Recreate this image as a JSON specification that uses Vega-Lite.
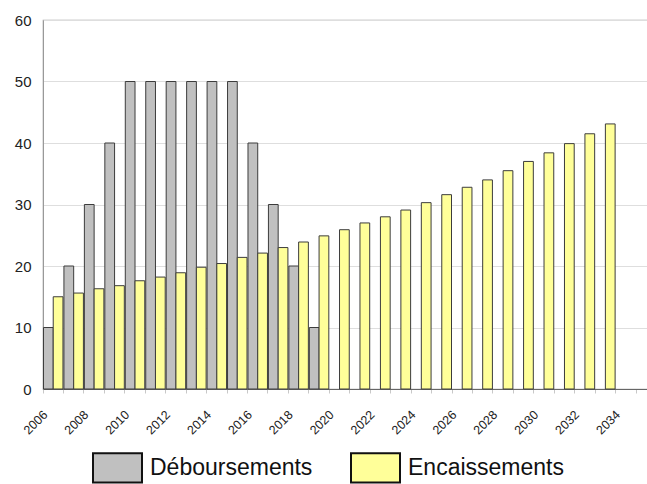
{
  "$schema": "https://vega.github.io/schema/vega-lite/v6.json",
  "autosize": {"type": "none"},
  "padding": {"left": 43, "top": 20, "right": 0, "bottom": 95},
  "width": 613.5,
  "height": 369,
  "config": {
    "view": {"stroke": "#a0a0a0", "strokeWidth": 1.2},
    "font": "Liberation Sans"
  },
  "data": {
    "values": [
      {"annee": 2006, "serie": "Déboursements", "montant": 10},
      {"annee": 2007, "serie": "Déboursements", "montant": 20},
      {"annee": 2008, "serie": "Déboursements", "montant": 30},
      {"annee": 2009, "serie": "Déboursements", "montant": 40},
      {"annee": 2010, "serie": "Déboursements", "montant": 50},
      {"annee": 2011, "serie": "Déboursements", "montant": 50},
      {"annee": 2012, "serie": "Déboursements", "montant": 50},
      {"annee": 2013, "serie": "Déboursements", "montant": 50},
      {"annee": 2014, "serie": "Déboursements", "montant": 50},
      {"annee": 2015, "serie": "Déboursements", "montant": 50},
      {"annee": 2016, "serie": "Déboursements", "montant": 40},
      {"annee": 2017, "serie": "Déboursements", "montant": 30},
      {"annee": 2018, "serie": "Déboursements", "montant": 20},
      {"annee": 2019, "serie": "Déboursements", "montant": 10},
      {"annee": 2006, "serie": "Encaissements", "montant": 15.0},
      {"annee": 2007, "serie": "Encaissements", "montant": 15.6},
      {"annee": 2008, "serie": "Encaissements", "montant": 16.3},
      {"annee": 2009, "serie": "Encaissements", "montant": 16.8},
      {"annee": 2010, "serie": "Encaissements", "montant": 17.6},
      {"annee": 2011, "serie": "Encaissements", "montant": 18.2},
      {"annee": 2012, "serie": "Encaissements", "montant": 18.9},
      {"annee": 2013, "serie": "Encaissements", "montant": 19.8},
      {"annee": 2014, "serie": "Encaissements", "montant": 20.4},
      {"annee": 2015, "serie": "Encaissements", "montant": 21.4},
      {"annee": 2016, "serie": "Encaissements", "montant": 22.1},
      {"annee": 2017, "serie": "Encaissements", "montant": 23.0},
      {"annee": 2018, "serie": "Encaissements", "montant": 23.9},
      {"annee": 2019, "serie": "Encaissements", "montant": 24.9},
      {"annee": 2020, "serie": "Encaissements", "montant": 25.9},
      {"annee": 2021, "serie": "Encaissements", "montant": 27.0},
      {"annee": 2022, "serie": "Encaissements", "montant": 28.0},
      {"annee": 2023, "serie": "Encaissements", "montant": 29.1},
      {"annee": 2024, "serie": "Encaissements", "montant": 30.3},
      {"annee": 2025, "serie": "Encaissements", "montant": 31.6},
      {"annee": 2026, "serie": "Encaissements", "montant": 32.8},
      {"annee": 2027, "serie": "Encaissements", "montant": 34.0},
      {"annee": 2028, "serie": "Encaissements", "montant": 35.5},
      {"annee": 2029, "serie": "Encaissements", "montant": 37.0},
      {"annee": 2030, "serie": "Encaissements", "montant": 38.4},
      {"annee": 2031, "serie": "Encaissements", "montant": 39.9},
      {"annee": 2032, "serie": "Encaissements", "montant": 41.5},
      {"annee": 2033, "serie": "Encaissements", "montant": 43.1}
    ]
  },
  "mark": {"type": "bar", "stroke": "#3c3c3c", "strokeWidth": 1},
  "encoding": {
    "x": {
      "field": "annee",
      "type": "ordinal",
      "scale": {
        "domain": [2006, 2007, 2008, 2009, 2010, 2011, 2012, 2013, 2014, 2015, 2016, 2017, 2018, 2019, 2020, 2021, 2022, 2023, 2024, 2025, 2026, 2027, 2028, 2029, 2030, 2031, 2032, 2033, 2034, 2035],
        "paddingInner": 0,
        "paddingOuter": 0
      },
      "axis": {
        "title": null,
        "bandPosition": 0,
        "ticks": true,
        "tickSize": 4,
        "tickColor": "#c8c8c8",
        "domainColor": "#666666",
        "domainWidth": 1.2,
        "grid": false,
        "labelAngle": -45,
        "labelAlign": "right",
        "labelBaseline": "top",
        "labelExpr": "datum.value % 2 == 0 ? datum.label : ''",
        "labelFont": "Liberation Sans",
        "labelFontSize": 12.5,
        "labelColor": "#222222",
        "labelOffset": -12,
        "labelPadding": 15,
        "labelOverlap": false
      }
    },
    "xOffset": {
      "field": "serie",
      "type": "nominal",
      "scale": {"domain": ["Déboursements", "Encaissements"], "paddingInner": 0, "paddingOuter": 0.05}
    },
    "y": {
      "field": "montant",
      "type": "quantitative",
      "scale": {"domain": [0, 60], "nice": false},
      "axis": {
        "title": null,
        "values": [0, 10, 20, 30, 40, 50, 60],
        "ticks": false,
        "domainColor": "#999999",
        "gridColor": "#dedede",
        "labelFont": "Liberation Sans",
        "labelFontSize": 15,
        "labelColor": "#222222",
        "labelPadding": 12,
        "labelDy": 1
      }
    },
    "color": {
      "field": "serie",
      "type": "nominal",
      "scale": {"domain": ["Déboursements", "Encaissements"], "range": ["#c0c0c0", "#ffff99"]},
      "legend": {
        "title": null,
        "orient": "none",
        "direction": "horizontal",
        "legendX": 49,
        "legendY": 422,
        "symbolType": "M-1,-0.6H1V0.6H-1Z",
        "symbolSize": 2401,
        "symbolStrokeColor": "#111111",
        "symbolStrokeWidth": 2,
        "labelFont": "Liberation Sans",
        "labelFontSize": 23,
        "labelColor": "#111111",
        "labelLimit": 400,
        "labelOffset": 7,
        "columnPadding": 34
      }
    }
  }
}
